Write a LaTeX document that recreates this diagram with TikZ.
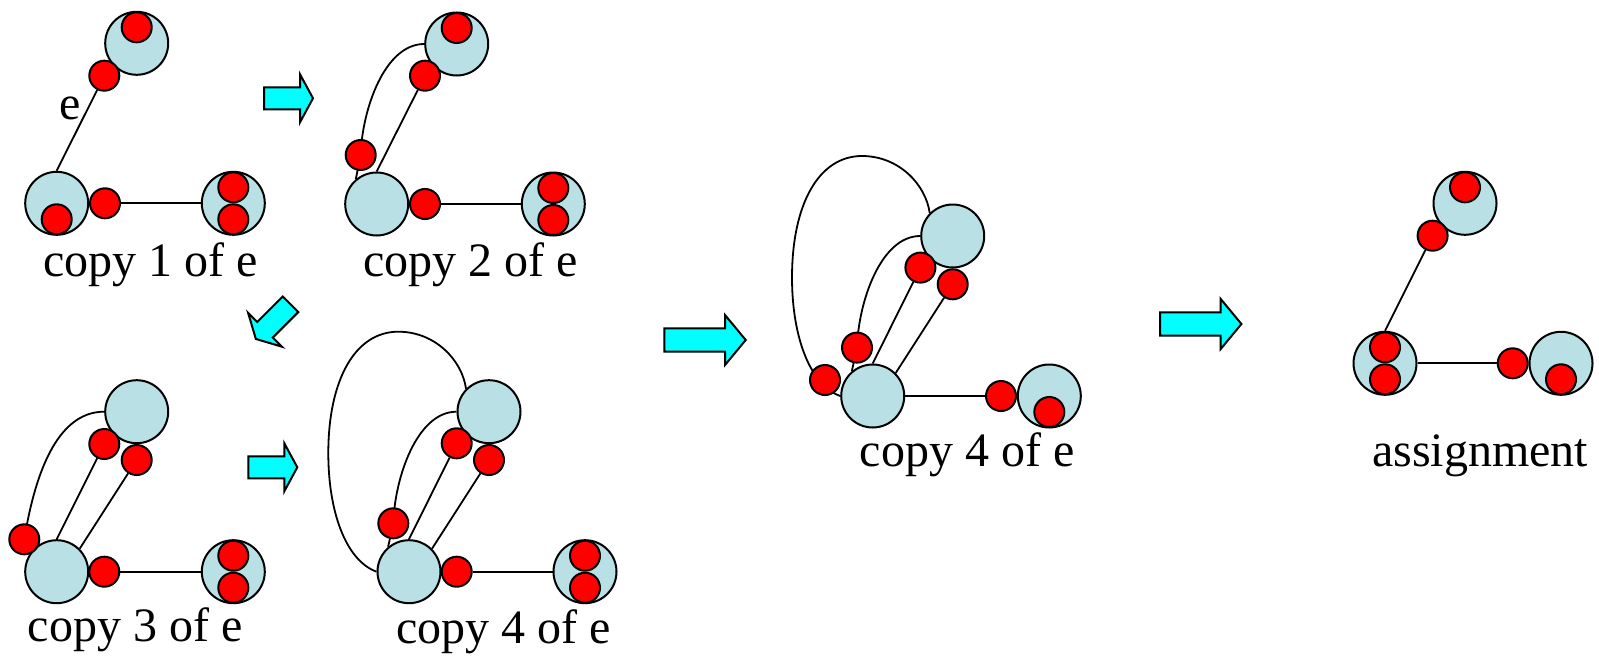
\documentclass[tikz,border=0pt]{standalone}
\usepackage{fontspec}
\setmainfont{Liberation Serif}
\pgfdeclarelayer{bg}
\pgfsetlayers{bg,main}
\definecolor{lblue}{RGB}{185,224,228}
\definecolor{acyan}{RGB}{0,255,255}
\definecolor{dotred}{RGB}{255,0,0}
\tikzset{
  big/.style={circle,draw=black,line width=1pt,fill=lblue,minimum size=31.5pt,inner sep=0pt},
  dot/.style={circle,draw=black,line width=1pt,fill=dotred,minimum size=15pt,inner sep=0pt},
  edge/.style={line width=0.9pt,draw=black},
  lbl/.style={font=\fontsize{24}{28}\selectfont,inner sep=0pt,anchor=base},
  smallarr/.pic={\draw[line width=1pt,fill=acyan,line join=miter] (0,-11)--(36,-11)--(36,-24)--(49,0)--(36,24)--(36,11)--(0,11)--cycle;},
  bigarr/.pic={\draw[line width=1pt,fill=acyan,line join=miter] (0,-11.7)--(60.7,-11.7)--(60.7,-25)--(81.4,0)--(60.7,25)--(60.7,11.7)--(0,11.7)--cycle;}
}
\begin{document}
\begin{tikzpicture}[x=0.5pt,y=-0.5pt]
\useasboundingbox (0,0) rectangle (1599,658);

% ---------- panel 1 ----------
\begin{scope}[shift={(56.7,203.3)}]
  \node[big] (B1) at (0,0) {};
  \node[dot] (B1i) at (0,16) {};
  \node[big] (T1) at (80,-160) {};
  \node[dot] (T1i) at (80,-176) {};
  \node[dot] (e1) at (47.6,-127.6) {};
  \node[dot] (f1) at (48.3,0) {};
  \node[big] (R1) at (176.6,0) {};
  \node[dot] (R1a) at (176.6,-16) {};
  \node[dot] (R1b) at (176.6,16) {};
  \node[lbl] (le1) at (13.3,-83.5) {e};
  \node[lbl] (c1) at (94.2,73.4) {copy 1 of e};
  \begin{pgfonlayer}{bg}
    \draw[edge] (e1) -- (B1.north);
    \draw[edge] (f1) -- (R1);
  \end{pgfonlayer}
\end{scope}

% ---------- panel 2 ----------
\begin{scope}[shift={(376.7,204)}]
  \node[big] (B2) at (0,0) {};
  \node[big] (T2) at (80,-160) {};
  \node[dot] (T2i) at (80,-176) {};
  \node[dot] (e2) at (48.3,-128.3) {};
  \node[dot] (a2) at (-16,-49) {};
  \node[dot] (f2) at (48.3,0) {};
  \node[big] (R2) at (176.6,0) {};
  \node[dot] (R2a) at (176.6,-16) {};
  \node[dot] (R2b) at (176.6,16) {};
  \node[lbl] (c2) at (94.2,72.7) {copy 2 of e};
  \begin{pgfonlayer}{bg}
    \draw[edge] (e2) -- (B2.north);
    \draw[edge] (f2) -- (R2);
    \draw[edge] (B2.130) -- (a2.center) .. controls (-14.7,-94) and (7.8,-160) .. (T2.west);
  \end{pgfonlayer}
\end{scope}

% ---------- panel 3 ----------
\begin{scope}[shift={(56.7,571.7)}]
  \node[big] (B3) at (0,0) {};
  \node[big] (T3) at (80,-160) {};
  \node[dot] (e3a) at (47.6,-127.7) {};
  \node[dot] (e3b) at (80,-111.7) {};
  \node[dot] (a3) at (-32.4,-32.4) {};
  \node[dot] (f3) at (47.6,0) {};
  \node[big] (R3) at (176.6,0) {};
  \node[dot] (R3a) at (176.6,-16) {};
  \node[dot] (R3b) at (176.6,16) {};
  \node[lbl] (c3) at (78.3,70) {copy 3 of e};
  \begin{pgfonlayer}{bg}
    \draw[edge] (e3a) -- (B3.north);
    \draw[edge] (e3b) -- (B3.45);
    \draw[edge] (f3) -- (R3);
    \draw[edge] (a3.center) .. controls (-18.7,-116.7) and (8.3,-160) .. (T3.west);
  \end{pgfonlayer}
\end{scope}

% ---------- panel 4 ----------
\begin{scope}[shift={(409,571.7)}]
  \node[big] (B4) at (0,0) {};
  \node[big] (T4) at (80,-160) {};
  \node[dot] (e4a) at (47.7,-128.4) {};
  \node[dot] (e4b) at (80,-111.7) {};
  \node[dot] (a4) at (-15.7,-48.4) {};
  \node[dot] (f4) at (47.7,0) {};
  \node[big] (R4) at (176,0) {};
  \node[dot] (R4a) at (176,-16) {};
  \node[dot] (R4b) at (176,16) {};
  \node[lbl] (c4) at (94.3,71.3) {copy 4 of e};
  \begin{pgfonlayer}{bg}
    \draw[edge] (e4a) -- (B4.north);
    \draw[edge] (e4b) -- (B4.45);
    \draw[edge] (f4) -- (R4);
    \draw[edge] (B4.130) -- (a4.center) .. controls (-14.4,-93.4) and (7.8,-160) .. (T4.west);
    \draw[edge] (B4.west) .. controls (-64,-11.7) and (-80.7,-61.7) .. (-80.7,-118.4)
       .. controls (-80.7,-191.7) and (-54,-240) .. (-10.7,-240)
       .. controls (26,-240) and (53,-211.7) .. (T4.135);
  \end{pgfonlayer}
\end{scope}

% ---------- panel 5 ----------
\begin{scope}[shift={(872.7,396)}]
  \node[big] (B5) at (0,0) {};
  \node[big] (T5) at (80,-160) {};
  \node[dot] (e5a) at (47.7,-128.4) {};
  \node[dot] (e5b) at (80,-111.7) {};
  \node[dot] (a5) at (-15.7,-48.4) {};
  \node[dot] (o5) at (-47.7,-16) {};
  \node[dot] (f5) at (128.3,0) {};
  \node[big] (R5) at (176.6,0) {};
  \node[dot] (R5i) at (176.6,16) {};
  \node[lbl] (c5) at (94.3,70.7) {copy 4 of e};
  \begin{pgfonlayer}{bg}
    \draw[edge] (e5a) -- (B5.north);
    \draw[edge] (e5b) -- (B5.45);
    \draw[edge] (B5) -- (f5);
    \draw[edge] (B5.130) -- (a5.center) .. controls (-14.4,-93.4) and (7.8,-160) .. (T5.west);
    \draw[edge] (B5.west) .. controls (-64,-11.7) and (-80.7,-61.7) .. (-80.7,-118.4)
       .. controls (-80.7,-191.7) and (-54,-240) .. (-10.7,-240)
       .. controls (26,-240) and (53,-211.7) .. (T5.135);
  \end{pgfonlayer}
\end{scope}

% ---------- panel 6 ----------
\begin{scope}[shift={(1385,363.3)}]
  \node[big] (B6) at (0,0) {};
  \node[dot] (B6a) at (0,-16) {};
  \node[dot] (B6b) at (0,16) {};
  \node[big] (T6) at (80,-160) {};
  \node[dot] (T6i) at (80,-176) {};
  \node[dot] (e6) at (47.6,-127.6) {};
  \node[dot] (f6) at (127.7,0) {};
  \node[big] (R6) at (176,0) {};
  \node[dot] (R6i) at (176,16) {};
  \node[lbl] (c6) at (95,103.4) {assignment};
  \begin{pgfonlayer}{bg}
    \draw[edge] (e6) -- (B6.north);
    \draw[edge] (B6) -- (f6);
  \end{pgfonlayer}
\end{scope}

% ---------- block arrows ----------
\pic at (264,98.3) {smallarr};
\pic[rotate=225] at (290.5,304.3) {smallarr};
\pic at (248.3,467.3) {smallarr};
\pic at (664.3,340) {bigarr};
\pic at (1160,324) {bigarr};
\end{tikzpicture}
\end{document}
